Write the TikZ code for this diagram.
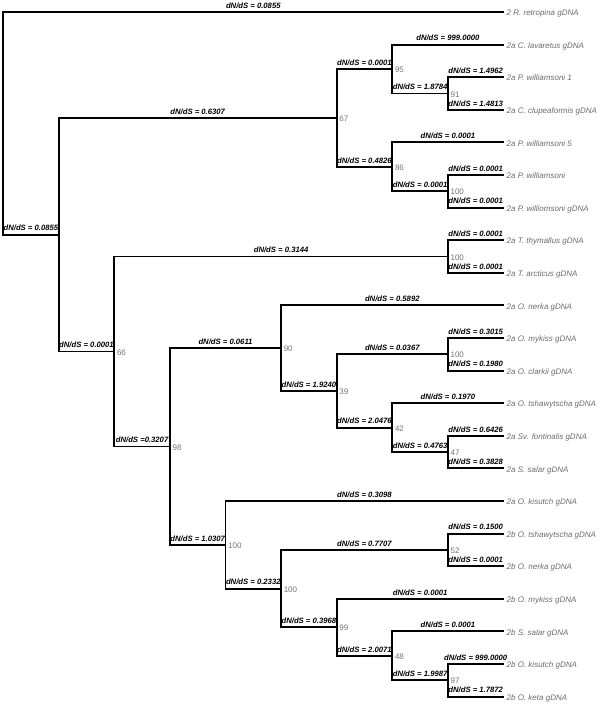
\documentclass[tikz,border=0pt]{standalone}
\usepackage{fontspec}
\setmainfont{Liberation Sans}
\begin{document}
\begin{tikzpicture}[x=1pt,y=-1pt,
  branch/.style={line width=1.9pt},
  rate/.style={pos=0.75, anchor=base, inner sep=0pt, yshift=3.8pt, font=\fontsize{7.7}{8}\selectfont\bfseries\itshape},
  taxon/.style={anchor=base west, inner sep=0pt, xshift=3pt, yshift=-3.6pt, text=black!58, font=\fontsize{8}{9}\selectfont\itshape},
  boot/.style={anchor=base west, inner sep=0pt, xshift=2.5pt, yshift=-3.6pt, text=black!55, font=\fontsize{8}{9}\selectfont}]
\useasboundingbox (0,0) rectangle (600,705);
% internal nodes (x = 503.5 - 55.6*height)
\coordinate (R)  at (3.1,123.36);
\coordinate (A)  at (58.7,234.72);
\coordinate (B)  at (336.7,117.95);
\coordinate (C)  at (392.3,69.05);
\coordinate (D)  at (447.9,93.5);
\coordinate (E)  at (392.3,166.85);
\coordinate (F)  at (447.9,191.3);
\coordinate (G)  at (114.3,351.50);
\coordinate (H)  at (447.9,256.5);
\coordinate (I)  at (169.9,446.50);
\coordinate (J)  at (281.1,348.19);
\coordinate (J2) at (336.7,390.98);
\coordinate (J3) at (447.9,354.3);
\coordinate (J4) at (392.3,427.65);
\coordinate (J5) at (447.9,452.1);
\coordinate (K)  at (225.5,544.81);
\coordinate (K2) at (281.1,588.61);
\coordinate (K3) at (447.9,549.9);
\coordinate (K4) at (336.7,627.33);
\coordinate (K5) at (392.3,655.85);
\coordinate (K6) at (447.9,680.3);
% leaves
\coordinate (L1)  at (503.5,12);
\coordinate (L2)  at (503.5,44.6);
\coordinate (L3)  at (503.5,77.2);
\coordinate (L4)  at (503.5,109.8);
\coordinate (L5)  at (503.5,142.4);
\coordinate (L6)  at (503.5,175.0);
\coordinate (L7)  at (503.5,207.6);
\coordinate (L8)  at (503.5,240.2);
\coordinate (L9)  at (503.5,272.8);
\coordinate (L10) at (503.5,305.4);
\coordinate (L11) at (503.5,338.0);
\coordinate (L12) at (503.5,370.6);
\coordinate (L13) at (503.5,403.2);
\coordinate (L14) at (503.5,435.8);
\coordinate (L15) at (503.5,468.4);
\coordinate (L16) at (503.5,501.0);
\coordinate (L17) at (503.5,533.6);
\coordinate (L18) at (503.5,566.2);
\coordinate (L19) at (503.5,598.8);
\coordinate (L20) at (503.5,631.4);
\coordinate (L21) at (503.5,664.0);
\coordinate (L22) at (503.5,696.6);
% branches
\draw[branch] (R) |- (L1) node[rate]{dN/dS = 0.0855};
\draw[branch] (R) |- (A) node[rate]{dN/dS = 0.0855};
\draw[branch] (A) |- (B) node[rate]{dN/dS = 0.6307};
\draw[branch] (A) |- (G) node[rate]{dN/dS = 0.0001};
\draw[branch] (B) |- (C) node[rate]{dN/dS = 0.0001};
\draw[branch] (B) |- (E) node[rate]{dN/dS = 0.4826};
\draw[branch] (C) |- (L2) node[rate]{dN/dS = 999.0000};
\draw[branch] (C) |- (D) node[rate]{dN/dS = 1.8784};
\draw[branch] (D) |- (L3) node[rate]{dN/dS = 1.4962};
\draw[branch] (D) |- (L4) node[rate]{dN/dS = 1.4813};
\draw[branch] (E) |- (L5) node[rate]{dN/dS = 0.0001};
\draw[branch] (E) |- (F) node[rate]{dN/dS = 0.0001};
\draw[branch] (F) |- (L6) node[rate]{dN/dS = 0.0001};
\draw[branch] (F) |- (L7) node[rate]{dN/dS = 0.0001};
\draw[branch] (G) |- (H) node[rate]{dN/dS = 0.3144};
\draw[branch] (G) |- (I) node[rate]{dN/dS =0.3207};
\draw[branch] (H) |- (L8) node[rate]{dN/dS = 0.0001};
\draw[branch] (H) |- (L9) node[rate]{dN/dS = 0.0001};
\draw[branch] (I) |- (J) node[rate]{dN/dS = 0.0611};
\draw[branch] (I) |- (K) node[rate]{dN/dS = 1.0307};
\draw[branch] (J) |- (L10) node[rate]{dN/dS = 0.5892};
\draw[branch] (J) |- (J2) node[rate]{dN/dS = 1.9240};
\draw[branch] (J2) |- (J3) node[rate]{dN/dS = 0.0367};
\draw[branch] (J2) |- (J4) node[rate]{dN/dS = 2.0476};
\draw[branch] (J3) |- (L11) node[rate]{dN/dS = 0.3015};
\draw[branch] (J3) |- (L12) node[rate]{dN/dS = 0.1980};
\draw[branch] (J4) |- (L13) node[rate]{dN/dS = 0.1970};
\draw[branch] (J4) |- (J5) node[rate]{dN/dS = 0.4763};
\draw[branch] (J5) |- (L14) node[rate]{dN/dS = 0.6426};
\draw[branch] (J5) |- (L15) node[rate]{dN/dS = 0.3828};
\draw[branch] (K) |- (L16) node[rate]{dN/dS = 0.3098};
\draw[branch] (K) |- (K2) node[rate]{dN/dS = 0.2332};
\draw[branch] (K2) |- (K3) node[rate]{dN/dS = 0.7707};
\draw[branch] (K2) |- (K4) node[rate]{dN/dS = 0.3968};
\draw[branch] (K3) |- (L17) node[rate]{dN/dS = 0.1500};
\draw[branch] (K3) |- (L18) node[rate]{dN/dS = 0.0001};
\draw[branch] (K4) |- (L19) node[rate]{dN/dS = 0.0001};
\draw[branch] (K4) |- (K5) node[rate]{dN/dS = 2.0071};
\draw[branch] (K5) |- (L20) node[rate]{dN/dS = 0.0001};
\draw[branch] (K5) |- (K6) node[rate]{dN/dS = 1.9987};
\draw[branch] (K6) |- (L21) node[rate]{dN/dS = 999.0000};
\draw[branch] (K6) |- (L22) node[rate]{dN/dS = 1.7872};
% bootstrap values
\node[boot] (bB)  at (B)  {67};
\node[boot] (bC)  at (C)  {95};
\node[boot] (bD)  at (D)  {91};
\node[boot] (bE)  at (E)  {86};
\node[boot] (bF)  at (F)  {100};
\node[boot] (bG)  at (G)  {66};
\node[boot] (bH)  at (H)  {100};
\node[boot] (bI)  at (I)  {98};
\node[boot] (bJ)  at (J)  {90};
\node[boot] (bJ2) at (J2) {39};
\node[boot] (bJ3) at (J3) {100};
\node[boot] (bJ4) at (J4) {42};
\node[boot] (bJ5) at (J5) {47};
\node[boot] (bK)  at (K)  {100};
\node[boot] (bK2) at (K2) {100};
\node[boot] (bK3) at (K3) {52};
\node[boot] (bK4) at (K4) {99};
\node[boot] (bK5) at (K5) {48};
\node[boot] (bK6) at (K6) {97};
% taxa
\node[taxon] (t1)  at (L1)  {2 R. retropina gDNA};
\node[taxon] (t2)  at (L2)  {2a C. lavaretus gDNA};
\node[taxon] (t3)  at (L3)  {2a P. williamsoni 1};
\node[taxon] (t4)  at (L4)  {2a C. clupeaformis gDNA};
\node[taxon] (t5)  at (L5)  {2a P. williamsoni 5};
\node[taxon] (t6)  at (L6)  {2a P. williamsoni};
\node[taxon] (t7)  at (L7)  {2a P. williomsoni gDNA};
\node[taxon] (t8)  at (L8)  {2a T. thymallus gDNA};
\node[taxon] (t9)  at (L9)  {2a T. arcticus gDNA};
\node[taxon] (t10) at (L10) {2a O. nerka gDNA};
\node[taxon] (t11) at (L11) {2a O. mykiss gDNA};
\node[taxon] (t12) at (L12) {2a O. clarkii gDNA};
\node[taxon] (t13) at (L13) {2a O. tshawytscha gDNA};
\node[taxon] (t14) at (L14) {2a Sv. fontinalis gDNA};
\node[taxon] (t15) at (L15) {2a S. salar gDNA};
\node[taxon] (t16) at (L16) {2a O. kisutch gDNA};
\node[taxon] (t17) at (L17) {2b O. tshawytscha gDNA};
\node[taxon] (t18) at (L18) {2b O. nerka gDNA};
\node[taxon] (t19) at (L19) {2b O. mykiss gDNA};
\node[taxon] (t20) at (L20) {2b S. salar gDNA};
\node[taxon] (t21) at (L21) {2b O. kisutch gDNA};
\node[taxon] (t22) at (L22) {2b O. keta gDNA};
\end{tikzpicture}
\end{document}
